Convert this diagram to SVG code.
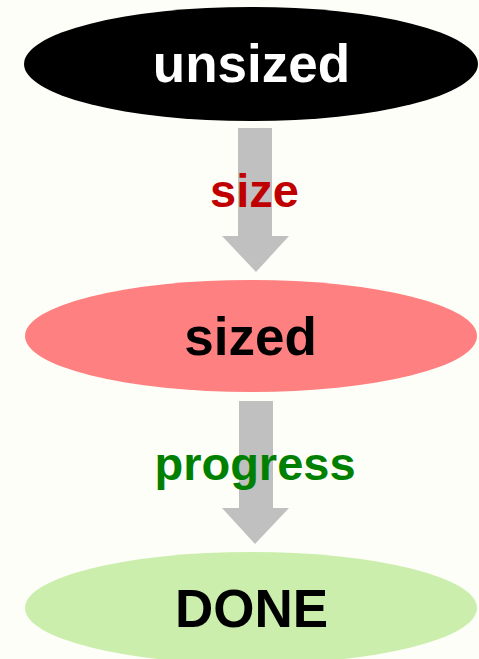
<svg xmlns="http://www.w3.org/2000/svg" width="479" height="659" viewBox="0 0 479 659">
<style>
.nt{font-family:"Liberation Sans",Arial,sans-serif;font-weight:bold;font-size:53px;text-anchor:middle}
.et{font-family:"Liberation Sans",Arial,sans-serif;font-weight:bold;font-size:47px;text-anchor:middle}
.arr{fill:#c0c0c0}
</style>
<rect width="479" height="659" fill="#fefef9"/>
<g id="connectors">
<g id="e1">
<path class="arr" d="M238,128 H272 V236 H289 L256,272 L222,236 H238 Z"/>
<text class="et" x="254.5" y="207" fill="#c00000">size</text>
</g>
<g id="e2">
<path class="arr" d="M239,401 H273 V508 H289 L255,544 L222,508 H239 Z"/>
<text class="et" x="255" y="480" fill="#008000">progress</text>
</g>
</g>
<g id="unsized">
<ellipse cx="251" cy="64" rx="227" ry="57" fill="#000"/>
<text class="nt" x="251.5" y="82" fill="#fff">unsized</text>
</g>
<g id="sized">
<ellipse cx="251" cy="336" rx="226" ry="56" fill="#ff8080"/>
<text class="nt" x="250.5" y="355" fill="#000">sized</text>
</g>
<g id="DONE">
<ellipse cx="251" cy="608" rx="226" ry="56" fill="#cbeeac"/>
<text class="nt" x="251.5" y="627" fill="#000">DONE</text>
</g>
</svg>
